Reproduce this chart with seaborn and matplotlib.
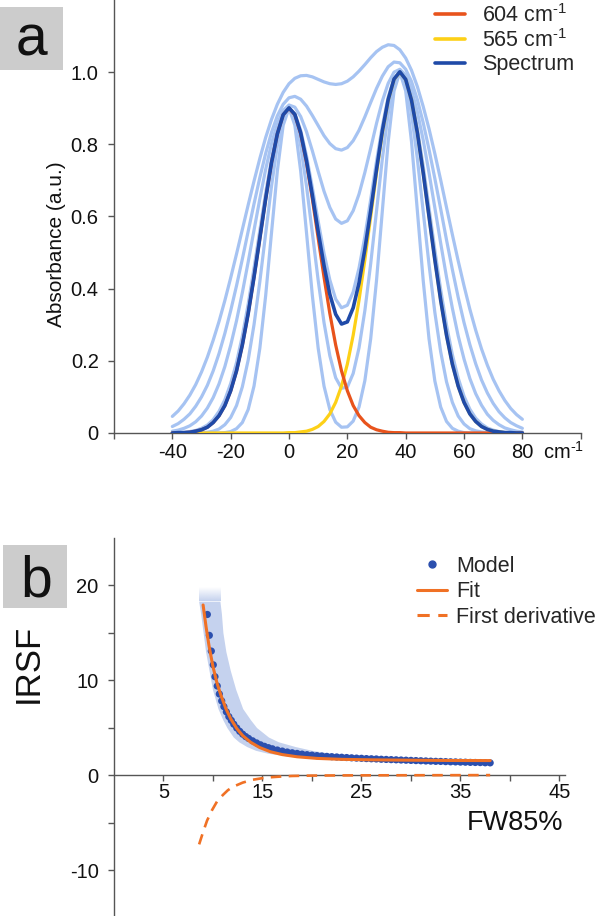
import numpy as np
import pandas as pd
import matplotlib
matplotlib.use('Agg')
import matplotlib.pyplot as plt
import seaborn as sns
from matplotlib.patches import Rectangle
from matplotlib.lines import Line2D
from matplotlib.colors import to_rgb

sns.set_theme(style='white')
plt.rcParams['font.family'] = ['Liberation Sans', 'DejaVu Sans']
plt.rcParams['mathtext.fontset'] = 'custom'
plt.rcParams['mathtext.rm'] = 'Liberation Sans'
plt.rcParams['mathtext.it'] = 'Liberation Sans:italic'
plt.rcParams['mathtext.bf'] = 'Liberation Sans:bold'

# ---------------- panel a data (wavenumber offset, absorbance x1000) ----------------
wavenumber = [-40, -38, -36, -34, -32, -30, -28, -26, -24, -22, -20, -18, -16, -14, -12, -10,
              -8, -6, -4, -2, 0, 2, 4, 6, 8, 10, 12, 14, 16, 18, 20, 22, 24, 26, 28, 30,
              32, 34, 36, 38, 40, 42, 44, 46, 48, 50, 52, 54, 56, 58, 60, 62, 64, 66, 68, 70,
              72, 74, 76, 78, 80]
band_604 = [0, 1, 1, 2, 5, 9, 16, 29, 48, 76, 117, 172, 244, 331, 432, 540, 649, 749, 829, 882,
            900, 882, 829, 749, 649, 540, 432, 331, 244, 172, 117, 76, 48, 29, 16, 9, 5, 2, 1, 1,
            0, 0, 0, 0, 0, 0, 0, 0, 0, 0, 0, 0, 0, 0, 0, 0, 0, 0, 0, 0, 0]
band_565 = [0, 0, 0, 0, 0, 0, 0, 0, 0, 0, 0, 0, 0, 0, 0, 0, 0, 0, 0, 0,
            1, 1, 3, 5, 10, 18, 32, 53, 85, 130, 191, 271, 368, 480, 600, 721, 832, 922, 980, 1000,
            980, 922, 832, 721, 600, 480, 368, 271, 191, 130, 85, 53, 32, 18, 10, 5, 3, 1, 1, 0, 0]
spectrum = [0, 1, 1, 2, 5, 9, 16, 29, 48, 76, 117, 172, 244, 331, 432, 540, 649, 749, 829, 882,
            901, 883, 832, 754, 659, 558, 464, 384, 329, 302, 308, 347, 416, 509, 616, 730, 837, 924, 981, 1001,
            980, 922, 832, 721, 600, 480, 368, 271, 191, 130, 85, 53, 32, 18, 10, 5, 3, 1, 1, 0, 0]
variant_1 = [46, 61, 81, 105, 134, 169, 210, 257, 309, 367, 430, 496, 564, 632, 698, 761, 819, 869, 911, 944,
             968, 983, 990, 991, 987, 980, 973, 968, 966, 968, 975, 987, 1003, 1021, 1040, 1057, 1069, 1076, 1074, 1062,
             1039, 1005, 960, 905, 843, 774, 701, 625, 550, 477, 408, 343, 285, 233, 188, 149, 117, 90, 68, 51, 38]
variant_2 = [18, 26, 38, 53, 74, 100, 132, 172, 220, 276, 339, 408, 482, 559, 635, 708, 775, 833, 879, 911,
             929, 933, 925, 906, 880, 852, 824, 802, 788, 784, 791, 810, 839, 876, 916, 955, 989, 1015, 1028, 1026,
             1008, 974, 924, 860, 786, 705, 621, 535, 453, 376, 306, 245, 192, 147, 111, 82, 59, 42, 29, 20, 13]
variant_3 = [5, 8, 13, 20, 31, 47, 69, 98, 136, 184, 243, 311, 389, 474, 562, 649, 731, 802, 857, 894,
             909, 903, 877, 835, 782, 725, 670, 625, 593, 581, 588, 616, 662, 722, 789, 858, 920, 969, 1000, 1008,
             992, 952, 890, 812, 721, 624, 526, 432, 346, 269, 205, 151, 109, 77, 52, 35, 23, 14, 9, 5, 3]
variant_4 = [0, 1, 2, 4, 7, 13, 22, 37, 60, 92, 137, 195, 269, 357, 457, 562, 666, 760, 835, 884,
             901, 885, 839, 768, 680, 587, 498, 424, 371, 347, 354, 391, 457, 544, 647, 753, 851, 931, 983, 1001,
             982, 928, 844, 740, 624, 507, 397, 299, 217, 152, 102, 66, 41, 25, 14, 8, 4, 2, 1, 1, 0]
variant_5 = [0, 0, 0, 0, 0, 1, 2, 5, 11, 23, 43, 76, 128, 202, 300, 420, 553, 684, 797, 873,
             900, 873, 797, 684, 554, 423, 306, 214, 153, 124, 127, 165, 236, 339, 469, 615, 760, 885, 970, 1000,
             970, 885, 760, 614, 467, 334, 225, 142, 85, 47, 25, 12, 6, 3, 1, 0, 0, 0, 0, 0, 0]
variant_6 = [0, 0, 0, 0, 0, 0, 0, 0, 0, 1, 4, 12, 29, 65, 130, 235, 381, 555, 726, 853,
             900, 853, 726, 555, 381, 235, 130, 65, 30, 16, 17, 33, 72, 145, 261, 423, 616, 807, 948, 1000,
             948, 807, 616, 423, 261, 144, 72, 32, 13, 5, 1, 0, 0, 0, 0, 0, 0, 0, 0, 0, 0]
a_xticks = [-60, -40, -20, 0, 20, 40, 60, 80, 100]
a_xticklabels = ['', '-40', '-20', '0', '20', '40', '60', '80', '']
a_yticks = [0, 0.2, 0.4, 0.6, 0.8, 1.0]
a_yticklabels = ['0', '0.2', '0.4', '0.6', '0.8', '1.0']
a_legend = ['604 cm$^{\\text{-}1}$', '565 cm$^{\\text{-}1}$', 'Spectrum']

# ---------------- panel b data ----------------
fit_x = [9.0, 9.3, 9.6, 10.0, 10.4, 10.8, 11.3, 11.8, 12.4, 13.0, 13.8, 14.7, 15.8, 17.0,
         18.5, 20.5, 23.0, 26.0, 30.0, 34.0, 38.0]
fit_y = [17.9, 15.6, 13.6, 11.4, 9.7, 8.4, 7.0, 5.9, 4.9, 4.15, 3.45, 2.9, 2.45, 2.15,
         1.92, 1.75, 1.65, 1.6, 1.56, 1.53, 1.52]
model_x = [9.43, 9.63, 9.83, 10.03, 10.2, 10.43, 10.64, 10.88, 11.1, 11.35, 11.6, 11.85, 12.1,
           12.4, 12.7, 13.0, 13.3, 13.6, 14.0, 14.4, 14.8, 15.2, 15.6, 16.0, 16.5, 17.0, 17.5,
           18.0, 18.5, 19.0, 19.5, 20.0, 20.5, 21.0, 21.5, 22.0, 22.5, 23.0, 23.5, 24.0, 24.5,
           25.0, 25.5, 26.0, 26.5, 27.0, 27.5, 28.0, 28.5, 29.0, 29.5, 30.0, 30.5, 31.0, 31.5,
           32.0, 32.5, 33.0, 33.5, 34.0, 34.5, 35.0, 35.5, 36.0, 36.5, 37.0, 37.5, 38.0]
model_y = [16.9, 14.7, 13.05, 11.6, 10.35, 9.37, 8.53, 7.8, 7.2, 6.65, 6.15, 5.75, 5.35,
           4.95, 4.6, 4.3, 4.05, 3.85, 3.6, 3.38, 3.18, 3.02, 2.88, 2.76, 2.63, 2.52, 2.42,
           2.34, 2.27, 2.2, 2.14, 2.09, 2.04, 2.0, 1.96, 1.93, 1.9, 1.87, 1.84, 1.81, 1.78,
           1.76, 1.73, 1.71, 1.69, 1.66, 1.64, 1.62, 1.6, 1.58, 1.56, 1.54, 1.52, 1.5, 1.48,
           1.46, 1.44, 1.43, 1.41, 1.39, 1.38, 1.36, 1.35, 1.33, 1.32, 1.31, 1.29, 1.28]
deriv_x = [8.6, 9.0, 9.4, 9.9, 10.4, 11.0, 11.5, 12.0, 13.0, 14.0, 15.0, 16.0, 17.0, 18.0,
           20.0, 23.0, 27.0, 32.0, 38.0]
deriv_y = [-7.3, -6.0, -4.8, -3.7, -2.8, -2.1, -1.6, -1.25, -0.8, -0.5, -0.33, -0.22, -0.15, -0.1,
           -0.06, -0.04, -0.03, -0.02, -0.01]
band_y = [18.3, 17.0, 15.0, 13.0, 11.0, 9.0, 7.0, 5.8, 5.0, 4.0, 3.5, 3.0, 2.6, 2.3, 2.0, 1.8, 1.6]
band_left = [8.55, 8.75, 9.0, 9.25, 9.6, 9.95, 10.5, 11.0, 11.4, 12.05, 12.6, 13.4, 14.3, 15.5, 17.5, 20.0, 24.0]
band_right = [10.7, 10.85, 11.0, 11.3, 11.75, 12.3, 13.0, 13.8, 14.4, 15.6, 16.6, 18.3, 20.0, 21.8, 24.0, 26.5, 28.5]
b_xticks = [5, 10, 15, 20, 25, 30, 35, 40, 45]
b_xticklabels = ['5', '', '15', '', '25', '', '35', '', '45']
b_yticks = [-10, -5, 0, 5, 10, 15, 20]
b_yticklabels = ['-10', '', '0', '', '10', '', '20']
b_legend = ['Model', 'Fit', 'First derivative']

# ---------------- colours ----------------
C_LIGHT = '#a6c3f2'
C_DARK = '#1f4aa8'
C_604 = '#e8531c'
C_565 = '#fdd017'
C_MODEL = '#2b4fae'
C_FIT = '#f07125'
C_BAND = '#c5d2ee'
C_AXIS = '#555555'
TICK_FS = 14.5

W, H = 599, 916
fig = plt.figure(figsize=(W / 100, H / 100), dpi=100)

# ================= panel a =================
ax1 = fig.add_axes([114 / W, 1 - 433 / H, 466.7 / W, 433 / H])
wn = np.array(wavenumber, dtype=float)
for v in [variant_1, variant_2, variant_3, variant_4, variant_5, variant_6]:
    sns.lineplot(x=wn, y=np.array(v) / 1000, ax=ax1, color=C_LIGHT, lw=2.3, zorder=2)
sns.lineplot(x=wn, y=np.array(band_565) / 1000, ax=ax1, color=C_565, lw=2.3, zorder=3)
sns.lineplot(x=wn, y=np.array(band_604) / 1000, ax=ax1, color=C_604, lw=2.3, zorder=4)
sns.lineplot(x=wn, y=np.array(spectrum) / 1000, ax=ax1, color=C_DARK, lw=2.6, zorder=5)
ax1.set_xlim(-60, 100)
ax1.set_ylim(0, 1.2)
ax1.set_xticks(a_xticks)
ax1.set_xticklabels(a_xticklabels)
ax1.set_yticks(a_yticks)
ax1.set_yticklabels(a_yticklabels)
ax1.set_xlabel('')
ax1.set_ylabel('Absorbance (a.u.)', fontsize=15, color='#111111')
ax1.yaxis.set_label_coords(-0.103, 0.435)
for s in ['top', 'right']:
    ax1.spines[s].set_visible(False)
for s in ['left', 'bottom']:
    ax1.spines[s].set_color(C_AXIS)
    ax1.spines[s].set_linewidth(1.0)
ax1.tick_params(axis='both', direction='out', length=4, width=1, color=C_AXIS,
                labelsize=TICK_FS, labelcolor='#111111', left=True, bottom=True)
ax1.tick_params(axis='y', pad=7)
ax1.tick_params(axis='x', pad=3)
ax1.text(87, -0.053, 'cm$^{\\text{-}1}$', fontsize=TICK_FS, ha='left', va='center',
         color='#111111', clip_on=False)
h1 = [Line2D([], [], color=C_604, lw=2.6), Line2D([], [], color=C_565, lw=2.6),
      Line2D([], [], color=C_DARK, lw=2.6)]
fig.legend(h1, a_legend, loc='upper left',
           bbox_to_anchor=(435 / W, 1 - 4 / H), bbox_transform=fig.transFigure, frameon=False,
           fontsize=15.5, handlelength=1.38, handletextpad=0.8, labelspacing=0.1,
           borderpad=0, borderaxespad=0)

# ================= panel b =================
ax2 = fig.add_axes([114 / W, 0, 451 / W, 378 / H])
ax2.fill_betweenx(band_y, band_left, band_right, color=C_BAND, lw=0, zorder=1)
# faded top of the band (vertical gradient)
grad = np.ones((40, 2, 4))
grad[:, :, :3] = to_rgb(C_BAND)
grad[:, :, 3] = np.linspace(1, 0, 40)[:, None]
ax2.imshow(grad, extent=(band_left[0], band_right[0], band_y[0], band_y[0] + 1.4),
           origin='lower', aspect='auto', zorder=1, interpolation='bilinear')
sns.scatterplot(x=model_x, y=model_y, ax=ax2, color=C_MODEL, s=27, edgecolor='none', zorder=3)
sns.lineplot(x=fit_x, y=fit_y, ax=ax2, color=C_FIT, lw=2.2, zorder=4)
sns.lineplot(x=deriv_x, y=deriv_y, ax=ax2, color=C_FIT, lw=1.9, zorder=4, dashes=False)
ax2.lines[-1].set_dashes([4, 2.8])
ax2.set_xlim(0, 45.56)
ax2.set_ylim(-14.84, 24.95)
ax2.set_xticks(b_xticks)
ax2.set_xticklabels(b_xticklabels)
ax2.set_yticks(b_yticks)
ax2.set_yticklabels(b_yticklabels)
ax2.set_xlabel('')
ax2.set_ylabel('IRSF', fontsize=25, color='#111111')
ax2.yaxis.set_label_coords(-0.153, 0.667)
for s in ['top', 'right']:
    ax2.spines[s].set_visible(False)
for s in ['left', 'bottom']:
    ax2.spines[s].set_color(C_AXIS)
    ax2.spines[s].set_linewidth(1.0)
ax2.spines['bottom'].set_position(('data', 0))
ax2.tick_params(axis='both', direction='out', length=4, width=1, color=C_AXIS,
                labelsize=TICK_FS, labelcolor='#111111', left=True, bottom=True)
ax2.tick_params(axis='y', pad=7)
ax2.tick_params(axis='x', pad=2)
ax2.text(40.5, -5.05, 'FW85%', fontsize=19.5, ha='center', va='center', color='#111111')
h2 = [Line2D([], [], color=C_MODEL, marker='o', ms=5, lw=0),
      Line2D([], [], color=C_FIT, lw=2.2),
      Line2D([], [], color=C_FIT, lw=2.2, dashes=[4, 2.8])]
fig.legend(h2, b_legend, loc='upper left',
           bbox_to_anchor=(417 / W, 1 - 556 / H), bbox_transform=fig.transFigure, frameon=False,
           fontsize=15.5, handlelength=1.38, handletextpad=0.45, labelspacing=0.2,
           borderpad=0, borderaxespad=0)

# ================= panel labels =================
fig.add_artist(Rectangle((0, 1 - 70 / H), 63 / W, 63 / H, transform=fig.transFigure,
                         facecolor='#cccccc', edgecolor='none'))
fig.text(31 / W, 1 - 55 / H, 'a', fontsize=41, ha='center', va='baseline', color='#111111')
fig.add_artist(Rectangle((3 / W, 1 - 608 / H), 64 / W, 63 / H, transform=fig.transFigure,
                         facecolor='#cccccc', edgecolor='none'))
fig.text(36 / W, 1 - 596.7 / H, 'b', fontsize=41, ha='center', va='baseline', color='#111111')

fig.savefig('out.png', dpi=100, facecolor='white')
